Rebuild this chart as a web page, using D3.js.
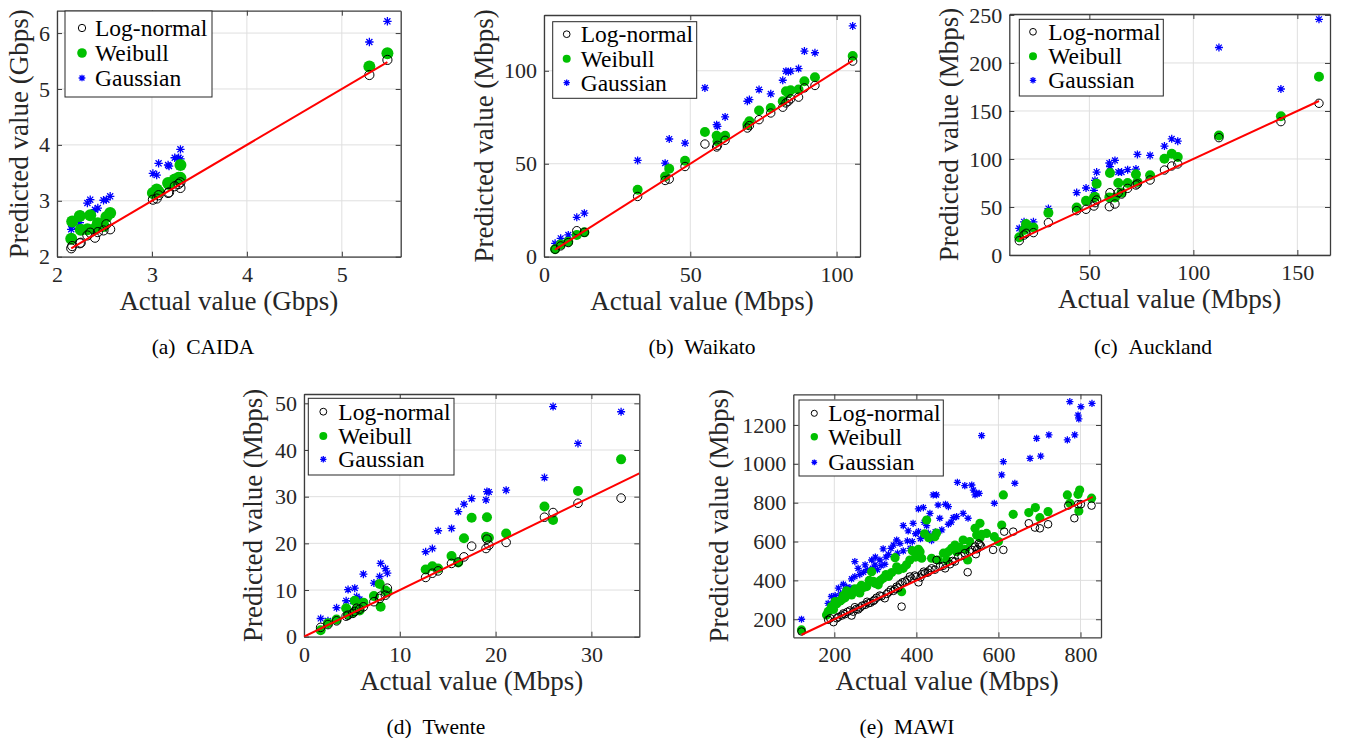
<!DOCTYPE html>
<html>
<head>
<meta charset="utf-8">
<script src="https://cdn.jsdelivr.net/npm/d3@7"></script>
<style>
  body { margin: 0; background: #fff; }
  svg { display: block; }
</style>
</head>
<body>
<div id="chart"></div>
<script>
// ---------------- data ----------------
const seriesNames = ["Log-normal", "Weibull", "Gaussian"];

// (a) CAIDA, Gbps
const caidaActual   = [2.15, 2.16, 2.24, 2.25, 2.32, 2.35, 2.40, 2.43, 2.49, 2.52, 2.56,
                       3.01, 3.05, 3.07, 3.17, 3.18, 3.24, 3.28, 3.30, 3.30, 5.29, 5.48];
const caidaLogNormal = [2.15, 2.19, 2.24, 2.25, 2.38, 2.43, 2.34, 2.44, 2.47, 2.58, 2.49,
                        3.02, 3.04, 3.10, 3.14, 3.15, 3.26, 3.30, 3.23, 3.33, 5.25, 5.52];
const caidaWeibull   = [2.32, 2.63, 2.73, 2.48, 2.49, 2.74, 2.50, 2.60, 2.55, 2.71, 2.78,
                        3.14, 3.20, 3.16, 3.32, 3.30, 3.38, 3.41, 3.64, 3.41, 5.40, 5.64];
const caidaGaussian  = [2.49, 2.55, 2.61, 2.75, 2.96, 3.02, 2.84, 2.87, 3.01, 3.02, 3.08,
                        3.49, 3.46, 3.67, 3.64, 3.62, 3.77, 3.77, 3.75, 3.92, 5.84, 6.21];
const caidaXTicks = [2, 3, 4, 5];
const caidaYTicks = [2, 3, 4, 5, 6];

// (b) Waikato, Mbps
const waikatoActual    = [3.8, 5.7, 8.3, 11.2, 13.8, 32.0, 41.4, 42.8, 48.2, 55.0, 59.0, 59.3, 61.9,
                          69.5, 70.2, 73.5, 77.5, 81.6, 82.7, 83.5, 84.3, 87.0, 89.0, 92.6, 105.5];
const waikatoLogNormal = [4.0, 5.8, 7.6, 14.0, 13.1, 32.4, 41.0, 41.7, 48.5, 60.6, 59.0, 59.9, 62.6,
                          69.2, 70.5, 73.7, 77.3, 80.4, 82.7, 83.6, 84.9, 85.8, 90.8, 92.1, 105.2];
const waikatoWeibull   = [4.0, 6.5, 8.1, 11.7, 13.1, 36.0, 43.1, 47.3, 51.6, 67.1, 65.1, 62.0, 65.1,
                          71.0, 72.8, 78.6, 80.0, 83.6, 89.0, 88.0, 89.5, 89.9, 94.4, 96.5, 107.9];
const waikatoGaussian  = [7.2, 9.9, 11.7, 21.2, 23.4, 51.8, 50.3, 63.3, 61.1, 90.8, 71.0, 70.1, 75.2,
                          83.6, 84.5, 89.9, 87.6, 94.9, 99.8, 99.5, 99.8, 101.2, 110.6, 109.7, 124.1];
const waikatoXTicks = [0, 50, 100];
const waikatoYTicks = [0, 50, 100];

// (c) Auckland, Mbps
const aucklandActual    = [16.3, 18.6, 19.6, 23.1, 30.3, 43.9, 48.4, 52.2, 52.7, 53.5, 59.6, 59.9, 62.3,
                           63.9, 65.5, 68.4, 72.4, 73.1, 79.2, 86.1, 89.6, 92.5, 112.3, 142.1, 160.4];
const aucklandLogNormal = [14.9, 20.8, 22.6, 23.3, 33.7, 46.2, 47.6, 51.0, 54.5, 57.3, 50.3, 64.9, 53.1,
                           64.9, 63.5, 69.4, 72.9, 74.0, 78.1, 88.5, 92.7, 94.8, 122.2, 138.9, 158.0];
const aucklandWeibull   = [18.4, 26.0, 32.2, 28.7, 43.9, 49.4, 56.4, 59.8, 60.5, 74.3, 60.0, 85.4, 59.8,
                           75.0, 65.0, 75.0, 84.0, 76.1, 83.0, 100.3, 105.5, 102.0, 124.5, 144.5, 185.7];
const aucklandGaussian  = [27.7, 34.6, 30.0, 34.6, 48.4, 65.0, 69.8, 67.4, 77.8, 86.4, 95.8, 92.0, 98.5,
                           86.4, 86.4, 88.9, 89.5, 104.8, 103.7, 113.4, 121.0, 118.6, 216.1, 172.9, 245.5];
const aucklandXTicks = [50, 100, 150];
const aucklandYTicks = [0, 50, 100, 150, 200, 250];

// (d) Twente, Mbps
const twenteActual    = [1.74, 2.5, 3.4, 4.4, 4.6, 5.1, 5.3, 5.5, 5.8, 6.2, 7.3, 7.9, 8.0, 8.5, 8.7,
                         12.7, 13.4, 14.0, 15.4, 16.1, 16.7, 17.5, 19.0, 19.1, 19.3, 21.1, 25.1, 26.0, 28.6, 33.1];
const twenteLogNormal = [2.0, 2.6, 3.4, 4.4, 4.6, 5.0, 5.4, 6.1, 5.9, 6.4, 7.5, 8.2, 8.7, 8.9, 10.4,
                         12.7, 13.6, 14.1, 15.7, 16.0, 17.1, 19.4, 18.9, 20.9, 19.6, 20.2, 25.6, 26.6, 28.6, 29.7];
const twenteWeibull   = [1.4, 2.9, 3.7, 6.1, 4.8, 5.2, 7.7, 5.8, 5.6, 7.3, 8.7, 11.3, 6.4, 9.9, 9.5,
                         14.4, 15.1, 14.6, 17.3, 15.9, 21.1, 25.5, 21.4, 25.6, 21.2, 22.1, 27.9, 25.0, 31.2, 38.0];
const twenteGaussian  = [3.9, 3.4, 6.2, 7.7, 10.1, 7.6, 10.4, 8.6, 8.0, 13.4, 11.5, 12.9, 15.7, 14.6, 13.6,
                         18.2, 18.9, 22.7, 23.2, 26.8, 28.4, 29.6, 29.3, 31.1, 31.0, 31.4, 34.1, 49.3, 41.4, 48.2];
const twenteXTicks = [0, 10, 20, 30];
const twenteYTicks = [0, 10, 20, 30, 40, 50];

// (e) MAWI, Mbps  -- [actual, predicted] pairs
const mawiLogNormal = [
  [120,137],[185,197],[190,205],[198,185],[206,205],[210,212],[218,219],[222,230],[226,226],[232,238],
  [238,245],[242,219],[246,239],[250,262],[254,253],[258,250],[263,260],[268,270],[275,274],[280,290],
  [283,282],[288,285],[295,294],[298,300],[303,311],[311,322],[315,318],[323,308],[328,330],[332,339],
  [338,352],[344,346],[348,355],[352,368],[356,362],[360,380],[364,265],[366,390],[372,394],[378,402],
  [384,420],[388,410],[396,425],[400,418],[405,390],[410,415],[413,432],[418,445],[421,437],[428,440],
  [432,452],[437,462],[445,455],[449,505],[457,471],[465,475],[470,462],[482,483],[488,500],[494,497],
  [502,522],[510,525],[518,540],[525,442],[530,548],[535,557],[543,574],[545,535],[548,560],[552,590],
  [555,583],[558,575],[587,557],[612,557],[614,651],[636,651],[674,694],[689,672],[701,668],[721,689],
  [770,785],[785,720],[794,792],[801,792],[827,785]
];
const mawiWeibull = [
  [120,145],[181,222],[185,240],[193,265],[198,250],[202,291],[206,280],[214,294],[218,300],[222,322],
  [226,310],[230,346],[236,335],[242,325],[246,340],[250,356],[258,356],[262,335],[266,375],[271,363],
  [279,368],[285,400],[291,445],[295,395],[299,385],[307,377],[312,400],[319,411],[326,430],[332,420],
  [340,440],[348,517],[352,470],[356,454],[364,342],[368,462],[376,480],[384,505],[390,553],[398,520],
  [405,560],[409,548],[413,514],[420,640],[425,711],[430,620],[437,514],[445,625],[449,643],[453,505],
  [466,540],[474,505],[478,548],[486,565],[494,582],[498,548],[505,570],[514,608],[520,560],[525,505],
  [530,600],[543,668],[547,634],[555,694],[555,620],[559,637],[571,642],[590,625],[600,600],[608,685],
  [612,840],[636,740],[674,749],[690,775],[701,723],[721,754],[768,840],[774,797],[794,843],[796,757],
  [798,865],[827,823]
];
const mawiGaussian = [
  [120,200],[185,282],[193,317],[202,322],[205,300],[210,360],[215,330],[222,380],[226,345],[230,365],
  [238,363],[242,408],[250,420],[250,497],[258,462],[262,430],[271,442],[275,480],[280,455],[291,505],
  [293,462],[299,480],[300,520],[305,455],[311,505],[314,476],[319,562],[323,483],[326,520],[332,534],
  [338,565],[344,582],[352,608],[354,540],[360,590],[368,682],[368,552],[378,603],[380,655],[385,565],
  [390,600],[392,694],[398,640],[405,651],[405,768],[410,615],[417,775],[419,699],[425,682],[429,643],
  [433,745],[437,605],[441,840],[446,650],[449,840],[453,788],[457,720],[462,660],[471,792],[478,780],
  [478,689],[485,700],[490,723],[498,728],[500,905],[514,745],[518,888],[526,720],[535,891],[539,865],
  [543,840],[547,848],[553,848],[559,1145],[590,797],[608,943],[612,1011],[640,900],[677,1028],[693,1131],
  [703,1040],[723,1149],[768,1123],[774,1320],[786,1149],[794,1251],[796,1231],[801,1294],[828,1311]
];
const mawiXTicks = [200, 400, 600, 800];
const mawiYTicks = [200, 400, 600, 800, 1000, 1200];

// ---------------- layout ----------------
const FONT = '"Liberation Serif", "Times New Roman", Times, serif';
const INK = "#262626";
const colors = ["#000000", "#00c000", "#0000ff"];

const pairs = (xs, ys) => xs.map((d, i) => [d, ys[i]]);

const panels = [
  {
    caption: "(a)\u2002CAIDA", unit: "Gbps",
    series: [pairs(caidaActual, caidaLogNormal), pairs(caidaActual, caidaWeibull), pairs(caidaActual, caidaGaussian)],
    fitLine: d3.extent(caidaActual),
    xDomain: [2, 5.62], yDomain: [2, 6.4], xTicks: caidaXTicks, yTicks: caidaYTicks,
    box: { left: 57, top: 10.7, right: 400.7, bottom: 256.7 },
    yLabelOffset: 29,
    legend: { x: 8, y: 0.3, w: 147, h: 86, rows: [17, 42, 67], mx: 17, tx: 30 },
    radius: [4.6, 6, 4.2],
    captionX: 203, captionY: 354
  },
  {
    caption: "(b)\u2002Waikato", unit: "Mbps",
    series: [pairs(waikatoActual, waikatoLogNormal), pairs(waikatoActual, waikatoWeibull), pairs(waikatoActual, waikatoGaussian)],
    fitLine: d3.extent(waikatoActual),
    xDomain: [0, 108], yDomain: [0, 130], xTicks: waikatoXTicks, yTicks: waikatoYTicks,
    box: { left: 544, top: 15, right: 860, bottom: 256.7 },
    yLabelOffset: 51,
    legend: { x: 8.7, y: 6.7, w: 144, h: 76.6, rows: [12.5, 37, 61], mx: 14, tx: 28 },
    radius: [4.2, 5, 4],
    captionX: 702, captionY: 354
  },
  {
    caption: "(c)\u2002Auckland", unit: "Mbps",
    series: [pairs(aucklandActual, aucklandLogNormal), pairs(aucklandActual, aucklandWeibull), pairs(aucklandActual, aucklandGaussian)],
    fitLine: d3.extent(aucklandActual),
    xDomain: [11.5, 165.7], yDomain: [0, 251], xTicks: aucklandXTicks, yTicks: aucklandYTicks,
    box: { left: 1009.3, top: 14, right: 1330, bottom: 255 },
    yLabelOffset: 51,
    legend: { x: 10, y: 5.3, w: 144, h: 76.7, rows: [12.5, 37, 61], mx: 13.7, tx: 29 },
    radius: [4.2, 5, 4],
    captionX: 1153, captionY: 354
  },
  {
    caption: "(d)\u2002Twente", unit: "Mbps",
    series: [pairs(twenteActual, twenteLogNormal), pairs(twenteActual, twenteWeibull), pairs(twenteActual, twenteGaussian)],
    fitLine: [0, 35],
    xDomain: [0, 35], yDomain: [0, 52], xTicks: twenteXTicks, yTicks: twenteYTicks,
    box: { left: 304, top: 394, right: 639.3, bottom: 636.7 },
    yLabelOffset: 42,
    legend: { x: 4.3, y: 4.3, w: 145.7, h: 76.7, rows: [13.4, 37.7, 61], mx: 15, tx: 30 },
    radius: [4.3, 5, 4],
    captionX: 436, captionY: 734
  },
  {
    caption: "(e)\u2002MAWI", unit: "Mbps",
    series: [mawiLogNormal, mawiWeibull, mawiGaussian],
    fitLine: [120, 830],
    xDomain: [100, 850], yDomain: [107, 1358], xTicks: mawiXTicks, yTicks: mawiYTicks,
    box: { left: 793.3, top: 394.3, right: 1101, bottom: 637.3 },
    yLabelOffset: 65,
    legend: { x: 5.7, y: 5.7, w: 144.3, h: 76, rows: [13.3, 36.7, 62.3], mx: 15.3, tx: 29.3 },
    radius: [3.8, 4.6, 3.6],
    captionX: 907, captionY: 734
  }
];

// ---------------- drawing ----------------
const svg = d3.select("#chart")
  .append("svg")
  .attr("width", 1347)
  .attr("height", 738)
  .style("font-family", FONT);

// MATLAB-like '*' marker: plus and cross
function asterisk(r) {
  const d = r * 0.72;
  return `M${-r},0H${r}M0,${-r}V${r}M${-d},${-d}L${d},${d}M${-d},${d}L${d},${-d}`;
}

function drawMarker(sel, k, r) {
  if (k === 0) {
    sel.append("circle").attr("r", r).attr("fill", "none")
      .attr("stroke", colors[0]).attr("stroke-width", 1);
  } else if (k === 1) {
    sel.append("circle").attr("r", r).attr("fill", colors[1]);
  } else {
    sel.append("path").attr("d", asterisk(r)).attr("fill", "none")
      .attr("stroke", colors[2]).attr("stroke-width", 1.3);
  }
}

function styleAxis(g) {
  g.attr("font-size", null).attr("font-family", null);
  g.select(".domain").attr("stroke", "#3c3c3c").attr("stroke-width", 1.3);
  g.selectAll(".tick line").attr("stroke", "#3c3c3c").attr("stroke-width", 1);
  g.selectAll(".tick text").attr("fill", INK).style("font-size", "22px").style("font-family", FONT);
}

function drawPanel(p) {
  const { left, top, right, bottom } = p.box;
  const width = right - left;
  const height = bottom - top;
  const g = svg.append("g").attr("transform", `translate(${left},${top})`);

  const x = d3.scaleLinear().domain(p.xDomain).range([0, width]);
  const y = d3.scaleLinear().domain(p.yDomain).range([height, 0]);

  // grid lines
  const grid = g.append("g").attr("stroke", "#dfdfdf").attr("stroke-width", 1);
  grid.selectAll(".gx").data(p.xTicks).join("line")
    .attr("x1", d => x(d)).attr("x2", d => x(d)).attr("y1", 0).attr("y2", height);
  grid.selectAll(".gy").data(p.yTicks).join("line")
    .attr("y1", d => y(d)).attr("y2", d => y(d)).attr("x1", 0).attr("x2", width);

  // axes, ticks pointing inward on all four sides
  g.append("g").attr("transform", `translate(0,${height})`)
    .call(d3.axisBottom(x).tickValues(p.xTicks).tickSize(-5).tickSizeOuter(0).tickPadding(9.5).tickFormat(d3.format("d")))
    .call(styleAxis);
  g.append("g")
    .call(d3.axisTop(x).tickValues(p.xTicks).tickSize(-5).tickSizeOuter(0).tickFormat(""))
    .call(styleAxis);
  g.append("g")
    .call(d3.axisLeft(y).tickValues(p.yTicks).tickSize(-5).tickSizeOuter(0).tickPadding(7).tickFormat(d3.format("d")))
    .call(styleAxis);
  g.append("g").attr("transform", `translate(${width},0)`)
    .call(d3.axisRight(y).tickValues(p.yTicks).tickSize(-5).tickSizeOuter(0).tickFormat(""))
    .call(styleAxis);

  // scatter points: Gaussian, Weibull, then Log-normal on top
  const clip = "clip-" + p.caption.charAt(1);
  g.append("clipPath").attr("id", clip).append("rect")
    .attr("width", width).attr("height", height);
  const plot = g.append("g").attr("clip-path", `url(#${clip})`);

  [2, 1, 0].forEach(k => {
    const pts = plot.append("g").selectAll("g").data(p.series[k]).join("g")
      .attr("transform", d => `translate(${x(d[0])},${y(d[1])})`);
    pts.each(function () { drawMarker(d3.select(this), k, p.radius[k]); });
  });

  // y = x reference line
  plot.append("line")
    .attr("x1", x(p.fitLine[0])).attr("y1", y(p.fitLine[0]))
    .attr("x2", x(p.fitLine[1])).attr("y2", y(p.fitLine[1]))
    .attr("stroke", "#ff0000").attr("stroke-width", 2);

  // axis titles
  g.append("text")
    .attr("x", width / 2).attr("y", height + 53)
    .attr("text-anchor", "middle")
    .attr("fill", INK).style("font-size", "27px")
    .text(`Actual value (${p.unit})`);
  g.append("text")
    .attr("transform", `translate(${-p.yLabelOffset},${height / 2}) rotate(-90)`)
    .attr("text-anchor", "middle")
    .attr("fill", INK).style("font-size", "27px")
    .text(`Predicted value (${p.unit})`);

  // legend
  const L = p.legend;
  const lg = g.append("g").attr("transform", `translate(${L.x},${L.y})`);
  lg.append("rect").attr("width", L.w).attr("height", L.h)
    .attr("fill", "#fff").attr("stroke", INK).attr("stroke-width", 1);
  seriesNames.forEach((name, k) => {
    const row = lg.append("g").attr("transform", `translate(0,${L.rows[k]})`);
    drawMarker(row.append("g").attr("transform", `translate(${L.mx},0)`), k, p.radius[k] * 0.8);
    row.append("text").attr("x", L.tx).attr("dy", "0.34em")
      .attr("fill", "#000").style("font-size", "23.5px").text(name);
  });

  // sub-figure caption
  svg.append("text")
    .attr("x", p.captionX).attr("y", p.captionY)
    .attr("text-anchor", "middle")
    .attr("fill", "#000").style("font-size", "21.5px")
    .text(p.caption);
}

panels.forEach(drawPanel);
</script>
</body>
</html>
